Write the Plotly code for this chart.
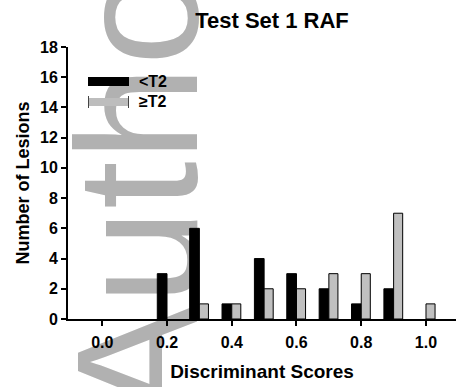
import plotly.graph_objects as go

# Data
bins = [0.0, 0.1, 0.2, 0.3, 0.4, 0.5, 0.6, 0.7, 0.8, 0.9, 1.0]
lt_t2 = [0, 0, 3, 6, 1, 4, 3, 2, 1, 2, 0]
ge_t2 = [0, 0, 0, 1, 1, 2, 2, 3, 3, 7, 1]
series_names = ["<T2", "≥T2"]
title_text = "Test Set 1 RAF"
x_title = "Discriminant Scores"
y_title = "Number of Lesions"
x_tickvals = [0.0, 0.2, 0.4, 0.6, 0.8, 1.0]
x_ticktext = ["0.0", "0.2", "0.4", "0.6", "0.8", "1.0"]
y_tickvals = list(range(0, 19, 2))
watermark = "Author"

W, H = 456, 387
L, R, T, B = 68, 0, 47, 68
pw, ph = W - L - R, H - T - B

def px(x):
    return (x - L) / pw

def py(y):
    return (H - B - y) / ph

FONT = "Liberation Sans, Arial, sans-serif"

def nz(vals):
    return [v if v else None for v in vals]

fig = go.Figure()
fig.add_trace(go.Bar(x=bins, y=nz(lt_t2), name=series_names[0], width=0.03, offset=-0.03,
                     marker=dict(color="#000000", line=dict(color="#000000", width=1))))
fig.add_trace(go.Bar(x=bins, y=nz(ge_t2), name=series_names[1], width=0.028, offset=0.0,
                     marker=dict(color="#c0c0c0", line=dict(color="#000000", width=1))))

shapes = []
# watermark
shapes.append(dict(type="rect", xref="paper", yref="paper",
                   x0=px(120), x1=px(122), y0=py(167), y1=py(165),
                   line=dict(width=0), fillcolor="rgba(0,0,0,0)", layer="below",
                   label=dict(text=watermark, textangle=-90, textposition="middle center",
                              font=dict(size=172, color="#b1b1b1", family=FONT))))
# legend symbols
shapes.append(dict(type="rect", xref="paper", yref="paper",
                   x0=px(88), x1=px(129), y0=py(86), y1=py(77),
                   fillcolor="#000000", line=dict(width=0)))
shapes.append(dict(type="rect", xref="paper", yref="paper",
                   x0=px(88), x1=px(129), y0=py(106), y1=py(98),
                   fillcolor="#bdbdbd", line=dict(width=0)))
for xx in (88.5, 128.5):
    shapes.append(dict(type="line", xref="paper", yref="paper",
                       x0=px(xx), x1=px(xx), y0=py(108), y1=py(96),
                       line=dict(color="#444444", width=1)))

annotations = [
    dict(text="<b>%s</b>" % series_names[0].replace("<", "&lt;"), xref="paper", yref="paper",
         x=px(137), y=py(81), xanchor="left", yanchor="middle", showarrow=False,
         font=dict(size=16, color="#000000", family=FONT)),
    dict(text="<b>%s</b>" % series_names[1], xref="paper", yref="paper",
         x=px(137), y=py(102), xanchor="left", yanchor="middle", showarrow=False,
         font=dict(size=16, color="#000000", family=FONT)),
]

fig.update_layout(
    width=W, height=H,
    margin=dict(l=L, r=R, t=T, b=B, pad=0),
    paper_bgcolor="#ffffff", plot_bgcolor="rgba(0,0,0,0)",
    showlegend=False,
    barmode="overlay",
    title=dict(text="<b>%s</b>" % title_text, x=272 / W, y=1 - 20 / H,
               xanchor="center", yanchor="middle", xref="container", yref="container",
               font=dict(size=22, color="#000000", family=FONT)),
    xaxis=dict(range=[-0.1058, 1.0927], tickvals=x_tickvals, ticktext=x_ticktext,
               showline=True, linecolor="#000000", linewidth=2, ticks="outside",
               ticklen=5, tickwidth=2, tickcolor="#000000", showgrid=False, zeroline=False,
               ticklabelstandoff=3,
               tickfont=dict(size=16, color="#000000", family=FONT, weight="bold"),
               title=dict(text="<b>%s</b>" % x_title, standoff=14,
                          font=dict(size=19, color="#000000", family=FONT))),
    yaxis=dict(range=[0, 18], tickvals=y_tickvals,
               showline=True, linecolor="#000000", linewidth=2, ticks="outside",
               ticklen=5, tickwidth=2, tickcolor="#000000", showgrid=False, zeroline=False,
               tickfont=dict(size=16, color="#000000", family=FONT, weight="bold"),
               title=dict(text="<b>%s</b>" % y_title, standoff=6,
                          font=dict(size=18, color="#000000", family=FONT))),
    shapes=shapes, annotations=annotations,
)

fig.write_html("out.html")
